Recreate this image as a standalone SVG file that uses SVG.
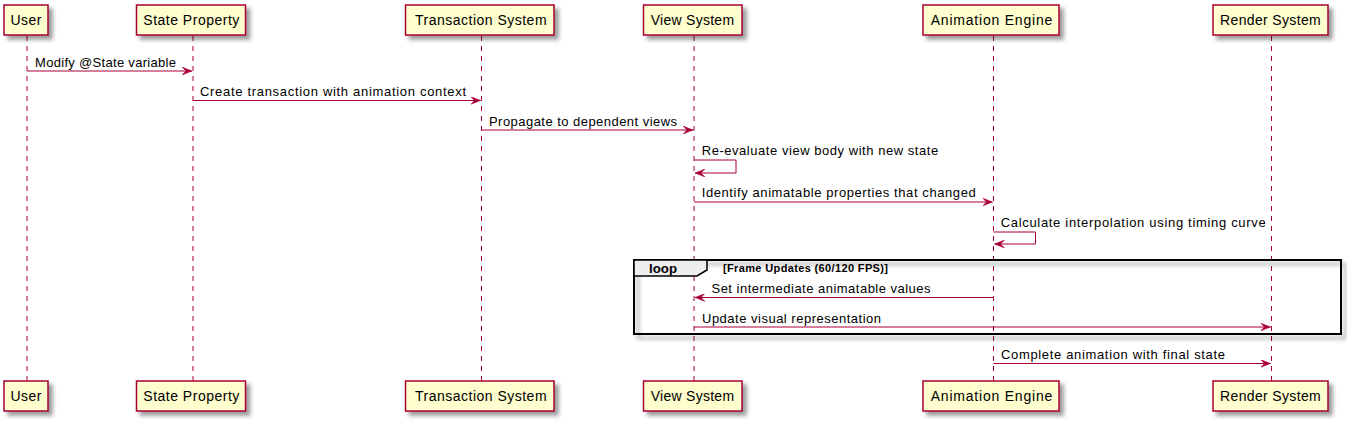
<svg xmlns="http://www.w3.org/2000/svg" width="1347" height="424" viewBox="0 0 1347 424">
<defs>
<filter id="sh" x="-1" y="-1" width="300%" height="300%">
<feGaussianBlur result="b" stdDeviation="2"/>
<feColorMatrix in="b" result="c" type="matrix" values="0 0 0 0 0 0 0 0 0 0 0 0 0 0 0 0 0 0 0.4 0"/>
<feOffset dx="4" dy="4" in="c" result="o"/>
<feBlend in="SourceGraphic" in2="o" mode="normal"/>
</filter>
<marker id="ah" viewBox="0 0 10 8" refX="10" refY="4" markerWidth="10" markerHeight="8" markerUnits="userSpaceOnUse" orient="auto">
<polygon points="0,0 10,4 0,8 4,4" fill="#A80036" stroke="#A80036" stroke-width="0.5"/>
</marker>
</defs>
<style>
.part rect{fill:#FEFECE;stroke:#A80036;stroke-width:1.5;filter:url(#sh)}
.part text{font-family:"Liberation Sans",Arial,sans-serif;font-size:14px;fill:#000;text-anchor:middle}
.life{stroke:#A80036;stroke-width:1;stroke-dasharray:5,5;fill:none}
.msg{stroke:#A80036;stroke-width:1;fill:none;marker-end:url(#ah)}
.lbl{font-family:"Liberation Sans",Arial,sans-serif;font-size:13px;fill:#000}
.frame{fill:none;stroke:#000;stroke-width:2;filter:url(#sh)}
.tab{fill:#EEEEEE;stroke:#000;stroke-width:1.5}
.bold{font-family:"Liberation Sans",Arial,sans-serif;font-weight:bold;fill:#000}
</style>
<rect width="1347" height="424" fill="#FFFFFF"/>
<g id="lifelines">
<line class="life" x1="27" y1="36" x2="27" y2="381"/>
<line class="life" x1="193" y1="36" x2="193" y2="381"/>
<line class="life" x1="481.5" y1="36" x2="481.5" y2="381"/>
<line class="life" x1="694" y1="36" x2="694" y2="381"/>
<line class="life" x1="993.5" y1="36" x2="993.5" y2="381"/>
<line class="life" x1="1271.5" y1="36" x2="1271.5" y2="381"/>
</g>
<g id="loop-frame">
<rect class="frame" x="634" y="260" width="707" height="74" fill="none"/>
<polygon class="tab" points="634,260 707,260 707,270 697,276 634,276"/>
<text class="bold" x="649" y="273" font-size="13" textLength="28" lengthAdjust="spacingAndGlyphs">loop</text>
<text class="bold" x="723" y="272" font-size="11" textLength="165" lengthAdjust="spacing">[Frame Updates (60/120 FPS)]</text>
</g>
<g id="p-user" class="part">
<rect x="4" y="5" width="44" height="30"/><text x="26" y="25" textLength="31" lengthAdjust="spacing">User</text>
<rect x="4" y="381" width="44" height="30"/><text x="26" y="401" textLength="31" lengthAdjust="spacing">User</text>
</g>
<g id="p-state" class="part">
<rect x="136.5" y="5" width="109" height="30"/><text x="191.3" y="25" textLength="96" lengthAdjust="spacing">State Property</text>
<rect x="136.5" y="381" width="109" height="30"/><text x="191.3" y="401" textLength="96" lengthAdjust="spacing">State Property</text>
</g>
<g id="p-transaction" class="part">
<rect x="405.5" y="5" width="148.5" height="30"/><text x="480.8" y="25" textLength="131.5" lengthAdjust="spacing">Transaction System</text>
<rect x="405.5" y="381" width="148.5" height="30"/><text x="480.8" y="401" textLength="131.5" lengthAdjust="spacing">Transaction System</text>
</g>
<g id="p-view" class="part">
<rect x="643.5" y="5" width="98.5" height="30"/><text x="692.4" y="25" textLength="83.3" lengthAdjust="spacing">View System</text>
<rect x="643.5" y="381" width="98.5" height="30"/><text x="692.4" y="401" textLength="83.3" lengthAdjust="spacing">View System</text>
</g>
<g id="p-animation" class="part">
<rect x="923" y="5" width="136" height="30"/><text x="991.5" y="25" textLength="121.5" lengthAdjust="spacing">Animation Engine</text>
<rect x="923" y="381" width="136" height="30"/><text x="991.5" y="401" textLength="121.5" lengthAdjust="spacing">Animation Engine</text>
</g>
<g id="p-render" class="part">
<rect x="1213" y="5" width="115" height="30"/><text x="1270.4" y="25" textLength="100.7" lengthAdjust="spacing">Render System</text>
<rect x="1213" y="381" width="115" height="30"/><text x="1270.4" y="401" textLength="100.7" lengthAdjust="spacing">Render System</text>
</g>
<g id="connectors">
<line class="msg" x1="27" y1="71" x2="192" y2="71"/>
<text class="lbl" x="35" y="66.5" textLength="141" lengthAdjust="spacing">Modify @State variable</text>
<line class="msg" x1="193" y1="100.5" x2="480.5" y2="100.5"/>
<text class="lbl" x="200" y="96" textLength="266" lengthAdjust="spacing">Create transaction with animation context</text>
<line class="msg" x1="481.5" y1="130" x2="693" y2="130"/>
<text class="lbl" x="489" y="125.5" textLength="188" lengthAdjust="spacing">Propagate to dependent views</text>
<polyline class="msg" points="694,160 736,160 736,173 695,173"/>
<text class="lbl" x="701.7" y="155" textLength="236.5" lengthAdjust="spacing">Re-evaluate view body with new state</text>
<line class="msg" x1="694" y1="202" x2="992.5" y2="202"/>
<text class="lbl" x="701.7" y="197" textLength="274" lengthAdjust="spacing">Identify animatable properties that changed</text>
<polyline class="msg" points="993.5,232 1035.5,232 1035.5,244 994.5,244"/>
<text class="lbl" x="1000.7" y="227" textLength="265" lengthAdjust="spacing">Calculate interpolation using timing curve</text>
<line class="msg" x1="993.5" y1="297.5" x2="695" y2="297.5"/>
<text class="lbl" x="711.5" y="293" textLength="219" lengthAdjust="spacing">Set intermediate animatable values</text>
<line class="msg" x1="694" y1="327" x2="1270.5" y2="327"/>
<text class="lbl" x="702" y="322.5" textLength="179" lengthAdjust="spacing">Update visual representation</text>
<line class="msg" x1="993.5" y1="363.5" x2="1270.5" y2="363.5"/>
<text class="lbl" x="1001" y="358.5" textLength="224" lengthAdjust="spacing">Complete animation with final state</text>
</g>
</svg>
